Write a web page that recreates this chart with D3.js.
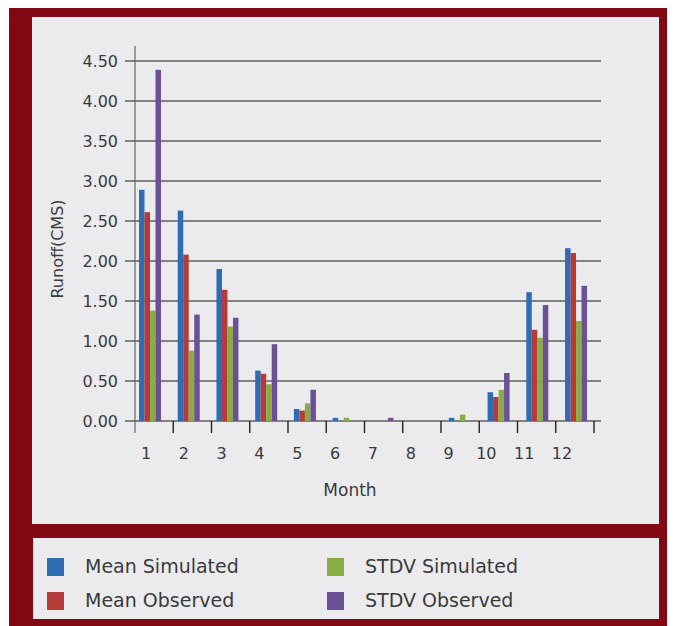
<!DOCTYPE html>
<html>
<head>
<meta charset="utf-8">
<script src="https://cdn.jsdelivr.net/npm/d3@7.9.0/dist/d3.min.js"></script>
<style>
  html, body { margin: 0; padding: 0; background: #fff; }
  svg { display: block; font-family: "DejaVu Sans", "Liberation Sans", sans-serif; }
</style>
</head>
<body>
<svg id="chart" width="675" height="626"></svg>
<script>
// Months on the x axis
const months = ['1', '2', '3', '4', '5', '6', '7', '8', '9', '10', '11', '12'];

// Series names and colours
const seriesNames = ['Mean Simulated', 'Mean Observed', 'STDV Simulated', 'STDV Observed'];
const seriesColors = ['#2e6db4', '#b53b3b', '#8aac46', '#6a5196'];

// Values (CMS)
const meanSimulated = [2.89, 2.63, 1.90, 0.63, 0.15, 0.04, 0.00, 0.00, 0.04, 0.36, 1.61, 2.16];
const meanObserved  = [2.61, 2.08, 1.64, 0.59, 0.13, 0.00, 0.00, 0.00, 0.00, 0.30, 1.14, 2.10];
const stdvSimulated = [1.38, 0.88, 1.18, 0.46, 0.22, 0.04, 0.00, 0.00, 0.08, 0.39, 1.04, 1.25];
const stdvObserved  = [4.39, 1.33, 1.29, 0.96, 0.39, 0.00, 0.04, 0.00, 0.00, 0.60, 1.45, 1.69];

// Y axis ticks
const yTicks = [0, 0.5, 1, 1.5, 2, 2.5, 3, 3.5, 4, 4.5];

const allSeries = [meanSimulated, meanObserved, stdvSimulated, stdvObserved];

let svg = d3.select('#chart');

// Dark red frame and the two light panels
svg.append('rect').attr('x', 9).attr('y', 8).attr('width', 658).attr('height', 618).attr('fill', '#820913');
svg.append('rect').attr('x', 32).attr('y', 17).attr('width', 627).attr('height', 507).attr('fill', '#ebebed');
svg.append('rect').attr('x', 33).attr('y', 538).attr('width', 626).attr('height', 81).attr('fill', '#ebebed');

// Scales
let y = d3.scaleLinear().domain([0, 4.5]).range([421, 61]);
let xTick = d3.scaleBand().domain(months).range([135, 594]);
let xGroup = d3.scaleBand().domain(months).range([134, 134 + 38.73 * 12]);
let xInner = d3.scaleBand().domain(d3.range(seriesNames.length)).range([5, 27]);
let xLabel = d3.scalePoint().domain(months).range([146, 562]);

// Gridlines (they also make the y tick marks)
svg.append('g')
  .selectAll('line')
  .data(yTicks)
  .enter()
  .append('line')
  .attr('x1', 125)
  .attr('x2', 601)
  .attr('y1', (d) => y(d))
  .attr('y2', (d) => y(d))
  .attr('stroke', '#5f5f5f')
  .attr('stroke-width', 1.7);

// Y axis line
svg.append('line')
  .attr('x1', 135).attr('x2', 135)
  .attr('y1', 46).attr('y2', 433)
  .attr('stroke', '#666')
  .attr('stroke-width', 1.2);

// Y tick labels
svg.append('g')
  .selectAll('text')
  .data(yTicks)
  .enter()
  .append('text')
  .attr('x', 118)
  .attr('y', (d) => y(d))
  .attr('dy', '0.36em')
  .attr('text-anchor', 'end')
  .attr('font-size', 16)
  .attr('fill', '#3a3a3a')
  .text((d) => d3.format('.2f')(d));

// X tick marks at band edges
let tickEdges = months.map((m) => xTick(m)).concat([xTick.range()[1]]);
svg.append('g')
  .selectAll('line')
  .data(tickEdges.slice(1))
  .enter()
  .append('line')
  .attr('x1', (d) => d)
  .attr('x2', (d) => d)
  .attr('y1', 421)
  .attr('y2', 433)
  .attr('stroke', '#222')
  .attr('stroke-width', 1.4);

// Bars
let groups = svg.append('g')
  .selectAll('g')
  .data(months)
  .enter()
  .append('g')
  .attr('transform', (d) => `translate(${xGroup(d)},0)`);

groups.selectAll('rect')
  .data((m, mi) => allSeries.map((s, si) => ({ si: si, value: s[mi] })))
  .enter()
  .append('rect')
  .attr('x', (d) => xInner(d.si))
  .attr('width', xInner.bandwidth())
  .attr('y', (d) => y(d.value))
  .attr('height', (d) => y(0) - y(d.value))
  .attr('fill', (d) => seriesColors[d.si]);

// X tick labels
svg.append('g')
  .selectAll('text')
  .data(months)
  .enter()
  .append('text')
  .attr('x', (d) => xLabel(d))
  .attr('y', 459)
  .attr('text-anchor', 'middle')
  .attr('font-size', 16)
  .attr('fill', '#3a3a3a')
  .text((d) => d);

// Axis titles
svg.append('text')
  .attr('x', 350)
  .attr('y', 496)
  .attr('text-anchor', 'middle')
  .attr('font-size', 17)
  .attr('fill', '#3a3a3a')
  .text('Month');

svg.append('text')
  .attr('transform', 'translate(63,249) rotate(-90)')
  .attr('text-anchor', 'middle')
  .attr('font-size', 16)
  .attr('fill', '#3a3a3a')
  .text('Runoff(CMS)');

// Legend: two columns, two rows
let legend = svg.append('g')
  .selectAll('g')
  .data(seriesNames)
  .enter()
  .append('g')
  .attr('transform', (d, i) => {
    let col = Math.floor(i / 2);
    let row = i % 2;
    return `translate(${col === 0 ? 47 : 327},${558 + row * 34})`;
  });

legend.append('rect')
  .attr('width', 17)
  .attr('height', 18)
  .attr('fill', (d, i) => seriesColors[i]);

legend.append('text')
  .attr('x', 38)
  .attr('y', 15)
  .attr('font-size', 19)
  .attr('fill', '#3a3a3a')
  .text((d) => d);
</script>
</body>
</html>
